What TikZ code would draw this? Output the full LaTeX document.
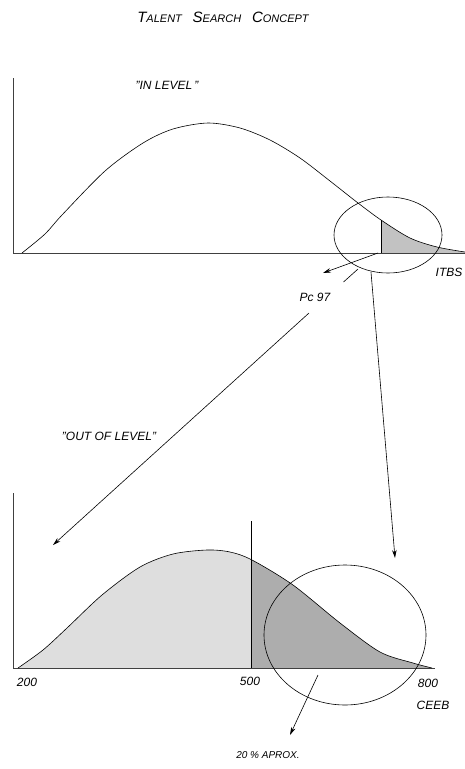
\documentclass[tikz,border=0pt]{standalone}
\usepackage{fontspec}
\setmainfont{Liberation Sans}
\usetikzlibrary{arrows.meta}
\newcommand{\capsc}[2]{{\fontsize{15}{17}\selectfont #1}{\fontsize{11}{13}\selectfont #2}}
\newcommand{\incurve}{plot[smooth,tension=0.5] coordinates {(22,253) (45,234) (62,215) (105,171) (143,143) (173,129) (208,123) (240,128) (270,140) (300,158) (330,181) (358,203) (381,220) (410,238) (437,247) (465,252)}}
\newcommand{\outcurve}{plot[smooth,tension=0.5] coordinates {(18,668) (43,650) (67,628) (102,595) (140,567) (173,554) (207,550) (230,552) (252,560) (293,585) (340,623) (380,652) (413,663) (432,668)}}
\begin{document}
\begin{tikzpicture}[x=1pt,y=-1pt,line width=0.6pt,
  every node/.style={font=\itshape\fontsize{12}{14}\selectfont,inner sep=1pt},
  axisline/.style={black!75,line width=0.7pt},
  arr/.style={-{Stealth[length=8pt,width=4.5pt]}},
  lightshade/.style={fill=black!13},
  darkshade/.style={fill=black!32},
  dotshade/.style={fill=black!24}]
\useasboundingbox (0,0) rectangle (465,769);
% title
\node (title) at (223,17) {\capsc{T}{ALENT}\hspace{0.9em}\capsc{S}{EARCH}\hspace{0.9em}\capsc{C}{ONCEPT}};
% in level chart
\begin{scope}
\clip (381,200) rectangle (465,253);
\fill[dotshade] \incurve -- (465,253) -- (381,253) -- cycle;
\end{scope}
\draw[axisline] (13,78) -- (13,253) -- (465,253);
\draw \incurve;
\draw (381,220) -- (381,253);
\draw (388,235) ellipse[x radius=54,y radius=38];
\node (inlevel) at (167,85) {"IN LEVEL\,"};
\node (itbs) at (449,272) {ITBS};
\node (pc97) at (315,297) {Pc 97};
% out of level chart
\begin{scope}
\clip (0,500) rectangle (251,668);
\fill[lightshade] \outcurve -- cycle;
\end{scope}
\begin{scope}
\clip (251,500) rectangle (440,668);
\fill[darkshade] \outcurve -- cycle;
\end{scope}
\draw[axisline] (13,493) -- (13,668) -- (435,668);
\draw \outcurve;
\draw (251,521) -- (251,668);
\draw (345,635) ellipse[x radius=81,y radius=70];
\node (outlevel) at (109,436) {"OUT OF LEVEL"};
\node (s200) at (27,682) {200};
\node (s500) at (250,681) {500};
\node (s800) at (428,683) {800};
\node (ceeb) at (433,705) {CEEB};
\node[font=\itshape\fontsize{10}{12}\selectfont] (aprox) at (268,755) {20 \% APROX.};
% connectors
\coordinate (pcfrom) at (378,253);
\coordinate (pctip) at (323,273);
\coordinate (outfrom) at (358,269);
\coordinate (gapa) at (343.5,282);
\coordinate (gapb) at (309,313);
\coordinate (outtip) at (53,545);
\coordinate (downfrom) at (371,272);
\coordinate (downtip) at (395,558);
\coordinate (apfrom) at (318,675);
\coordinate (aptip) at (290,735);
\draw[arr] (pcfrom) -- (pctip);
\draw (outfrom) -- (gapa);
\draw[arr] (gapb) -- (outtip);
\draw[arr] (downfrom) -- (downtip);
\draw[arr] (apfrom) -- (aptip);
\end{tikzpicture}
\end{document}
